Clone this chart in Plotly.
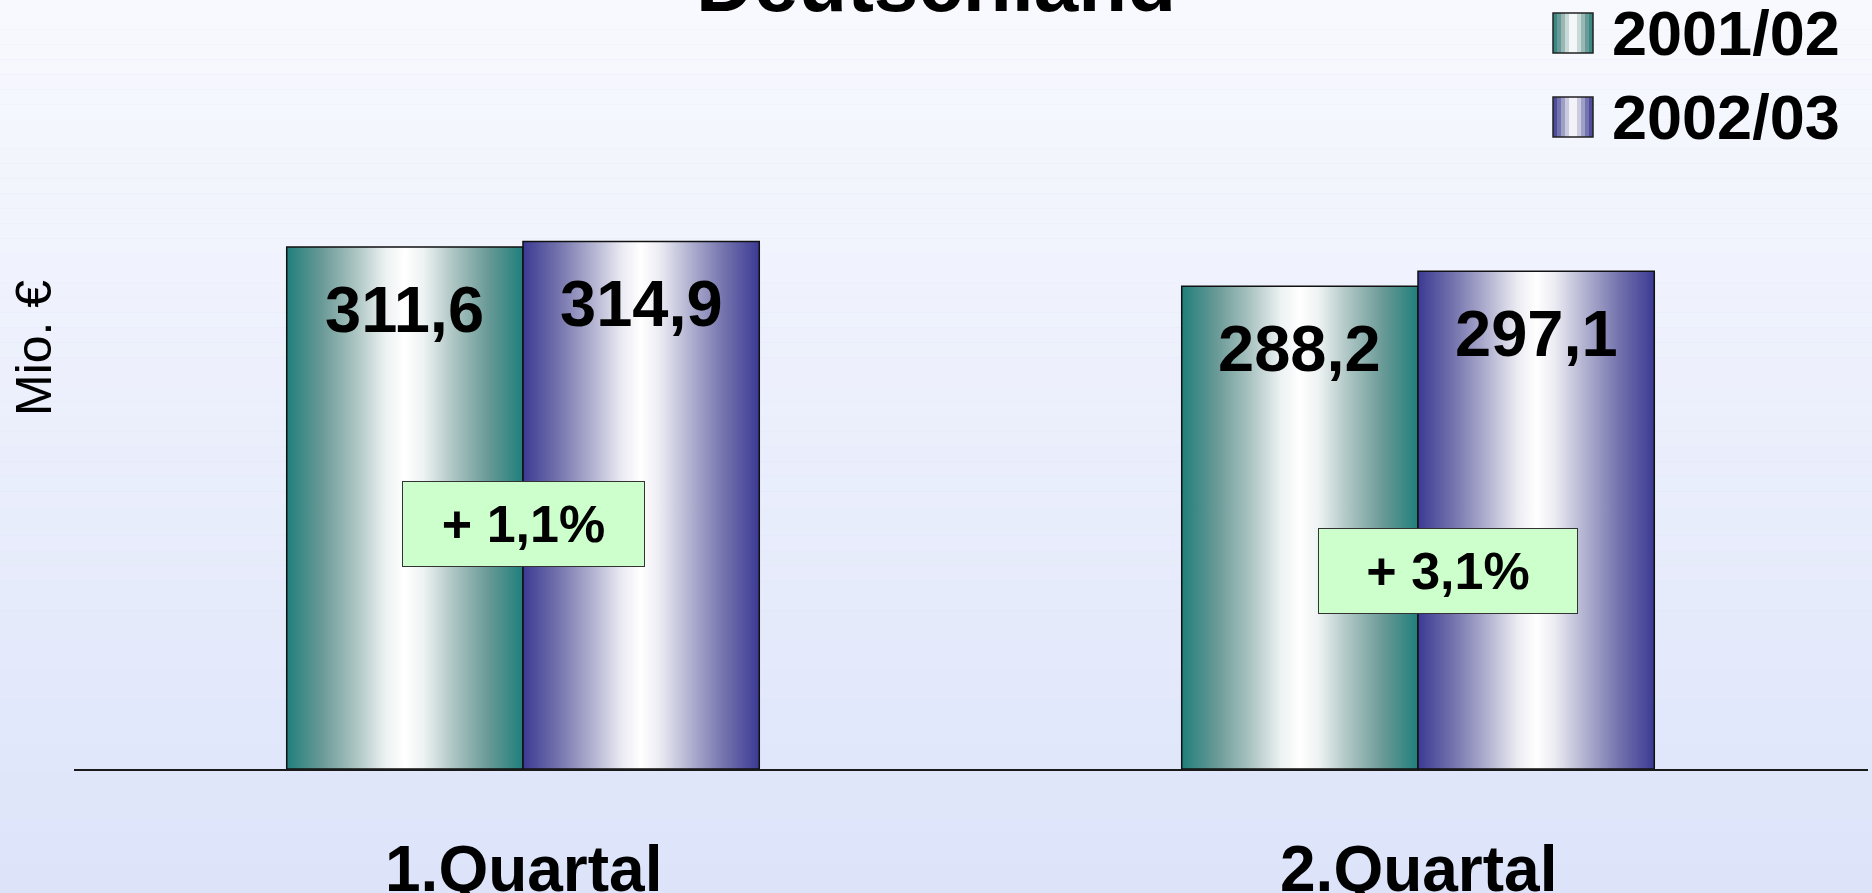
import plotly.graph_objects as go

# Data
quarters = ['1.Quartal', '2.Quartal']
years = ['2001/02', '2002/03']
umsatz_2001_02 = [311.6, 288.2]
umsatz_2002_03 = [314.9, 297.1]

# Style / layout constants
W, H = 1872, 893
edge_colors = ['#1f7f7b', '#3b3a94']
# half gradient from edge to centre (mirrored)
half_stops = [
    ['#1f7f7b', '#6a9a97', '#afc7c5', '#edf2f2', '#ffffff'],
    ['#3b3a94', '#7473ad', '#b4b4d2', '#ebebf3', '#ffffff'],
]
stop_pos = [0, 0.15, 0.3, 0.42, 0.5]
bar_w = 0.264
font_family = 'Liberation Sans, Arial, sans-serif'
bg_top, bg_bottom = '#f8f9fe', '#dde4fa'
box_pos = [(0.0, 146), (1.034, 118)]   # growth box centres (x index, y value)
box_size = [(241, 84), (258, 84)]


def hex_to_rgb(h):
    h = h.lstrip('#')
    return [int(h[i:i + 2], 16) for i in (0, 2, 4)]


def mix(c1, c2, t):
    a, b = hex_to_rgb(c1), hex_to_rgb(c2)
    return 'rgb({},{},{})'.format(*[round(a[i] + (b[i] - a[i]) * t) for i in range(3)])


def fmt(v):
    return f"{v:.1f}".replace('.', ',')


def mirrored_scale(stops):
    left = [[p, c] for p, c in zip(stop_pos, stops)]
    right = [[1 - p, c] for p, c in zip(stop_pos[:-1], stops[:-1])][::-1]
    return left + right


def scale_color(stops, t):
    # t in [0,1] across the bar width
    d = min(t, 1 - t)
    for i in range(len(stop_pos) - 1):
        if stop_pos[i] <= d <= stop_pos[i + 1]:
            f = (d - stop_pos[i]) / (stop_pos[i + 1] - stop_pos[i])
            return mix(stops[i], stops[i + 1], f)
    return stops[-1]


fig = go.Figure()

# Bars as gradient-filled polygons
series = [umsatz_2001_02, umsatz_2002_03]
for si, values in enumerate(series):
    cs = mirrored_scale(half_stops[si])
    for qi, v in enumerate(values):
        x0 = qi - bar_w if si == 0 else qi
        x1 = x0 + bar_w
        fig.add_trace(go.Scatter(
            x=[x0, x0, x1, x1, x0],
            y=[0, v, v, 0, 0],
            mode='lines',
            fill='toself',
            fillgradient=dict(type='horizontal', colorscale=cs),
            line=dict(color='#111111', width=1.5),
            name=years[si],
            hoverinfo='text',
            text=f"{quarters[qi]} {years[si]}: {fmt(v)}",
            showlegend=False,
        ))
        # value label
        fig.add_annotation(
            x=(x0 + x1) / 2, y=v, yshift=-62, yanchor='middle',
            text=fmt(v), showarrow=False,
            font=dict(size=65, family=font_family, color='black', weight='bold'),
        )

# Growth boxes
for qi in range(len(quarters)):
    growth = (umsatz_2002_03[qi] / umsatz_2001_02[qi] - 1) * 100
    bx, by = box_pos[qi]
    bw, bh = box_size[qi]
    fig.add_annotation(
        x=bx, y=by, xanchor='center', yanchor='middle',
        text=f"+ {fmt(growth)}%", showarrow=False,
        width=bw, height=bh, borderpad=0,
        bgcolor='#ccffcc', bordercolor='#333333', borderwidth=1,
        font=dict(size=52, family=font_family, color='black', weight='bold'),
    )

# Category labels
for qi, q in enumerate(quarters):
    fig.add_annotation(
        x=qi, y=0, yanchor='top', yshift=-62,
        text=q, showarrow=False,
        font=dict(size=64, family=font_family, color='black', weight='bold'),
    )

shapes = []
# Background gradient
n_bg = 60
for i in range(n_bg):
    shapes.append(dict(
        type='rect', xref='paper', yref='paper', layer='below',
        x0=0, x1=1, y0=1 - (i + 1) / n_bg, y1=1 - i / n_bg,
        fillcolor=mix(bg_top, bg_bottom, i / (n_bg - 1)), line=dict(width=0),
    ))

# Legend swatches (gradient stripes) + text
leg_rows = [13, 97]
sw_x0, sw_size = 1553, 40
n_st = 10
for si, yr in enumerate(years):
    top = leg_rows[si]
    for k in range(n_st):
        shapes.append(dict(
            type='rect', xref='paper', yref='paper',
            x0=(sw_x0 + k * sw_size / n_st) / W, x1=(sw_x0 + (k + 1) * sw_size / n_st) / W,
            y0=1 - (top + sw_size) / H, y1=1 - top / H,
            fillcolor=scale_color(half_stops[si], (k + 0.5) / n_st), line=dict(width=0),
        ))
    shapes.append(dict(
        type='rect', xref='paper', yref='paper',
        x0=sw_x0 / W, x1=(sw_x0 + sw_size) / W,
        y0=1 - (top + sw_size) / H, y1=1 - top / H,
        line=dict(color='#222222', width=1.5),
    ))
    fig.add_annotation(
        xref='paper', yref='paper', x=1610 / W, y=1 - (top + 20) / H,
        xanchor='left', yanchor='middle', text=yr, showarrow=False,
        font=dict(size=63, family=font_family, color='black', weight='bold'),
    )

# Title (cut off at top as in the original slide)
fig.add_annotation(
    xref='paper', yref='paper', x=936 / W, y=1 + 16 / H,
    xanchor='center', yanchor='middle', text='Deutschland', showarrow=False,
    font=dict(size=80, family=font_family, color='black', weight='bold'),
)

# Y axis title
fig.add_annotation(
    xref='paper', yref='paper', x=34 / W, y=1 - 348 / H,
    xanchor='center', yanchor='middle', text='Mio. €', textangle=-90,
    showarrow=False, font=dict(size=50, family=font_family, color='black'),
)

px_per_unit = 1.675
base_px = 769
fig.update_layout(
    width=W, height=H,
    margin=dict(l=0, r=0, t=0, b=0, pad=0),
    paper_bgcolor=bg_bottom,
    plot_bgcolor='rgba(0,0,0,0)',
    showlegend=False,
    shapes=shapes,
    xaxis=dict(
        domain=[74 / W, 1868 / W],
        range=[(74 - 523) / 895, (1868 - 523) / 895],
        showgrid=False, zeroline=False, showticklabels=False, ticks='',
        showline=True, linecolor='#1a1a1a', linewidth=2,
    ),
    yaxis=dict(
        domain=[(H - base_px) / H, 1],
        range=[0, base_px / px_per_unit],
        showgrid=False, zeroline=False, showticklabels=False, ticks='',
        showline=False,
    ),
)

fig.write_html("out.html", config={'displayModeBar': False},
               post_script="document.body.style.margin='0px';")
